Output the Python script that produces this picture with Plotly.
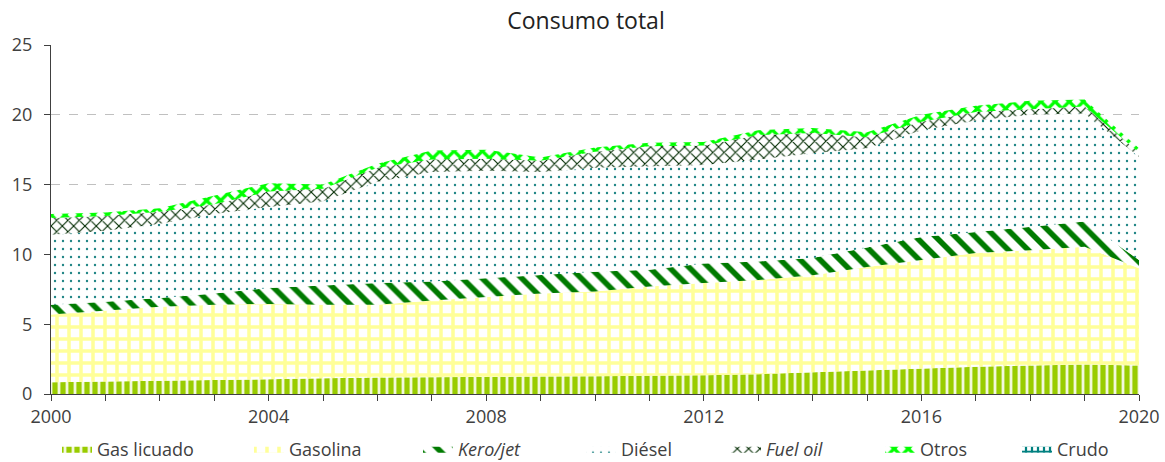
import plotly.graph_objects as go

years = list(range(2000, 2021))

gas_licuado = [0.85, 0.88, 0.95, 1.00, 1.08, 1.12, 1.18, 1.22, 1.24, 1.25, 1.28,
               1.30, 1.35, 1.42, 1.55, 1.68, 1.85, 1.95, 2.05, 2.12, 2.05]
gasolina = [4.85, 5.12, 5.30, 5.40, 5.37, 5.28, 5.22, 5.48, 5.73, 5.95, 6.07,
            6.40, 6.60, 6.75, 6.95, 7.42, 7.75, 8.15, 8.25, 8.43, 6.95]
kero_jet = [0.70, 0.60, 0.62, 0.80, 1.15, 1.40, 1.55, 1.35, 1.33, 1.30, 1.41,
            1.20, 1.40, 1.33, 1.25, 1.40, 1.65, 1.50, 1.70, 1.80, 0.60]
diesel = [5.00, 5.10, 5.33, 5.70, 5.80, 6.00, 7.25, 7.85, 7.70, 7.40, 7.44,
          7.40, 7.05, 7.30, 7.50, 7.10, 7.65, 8.00, 8.00, 7.75, 7.40]
fuel_oil = [1.20, 1.05, 0.85, 0.70, 1.10, 0.90, 1.00, 0.90, 0.85, 0.80, 1.15,
            1.45, 1.40, 1.75, 1.45, 0.80, 0.60, 0.60, 0.40, 0.50, 0.30]
otros = [0.30, 0.25, 0.25, 0.60, 0.60, 0.30, 0.30, 0.65, 0.65, 0.25, 0.30,
         0.25, 0.25, 0.35, 0.35, 0.35, 0.50, 0.45, 0.60, 0.50, 0.30]
crudo = [0.0] * 21

names = ["Gas licuado", "Gasolina", "<i>Kero/jet</i>", "Diésel", "<i>Fuel oil</i>", "Otros", "Crudo"]
values = [gas_licuado, gasolina, kero_jet, diesel, fuel_oil, otros, crudo]
patterns = [
    dict(shape="|", fgcolor="#99cc00", bgcolor="#f2f8dc", size=8, solidity=0.65),
    dict(shape="+", fgcolor="#ffff99", bgcolor="#ffffff", size=12, solidity=0.5),
    dict(shape="\\", fgcolor="#007a00", bgcolor="#ffffff", size=14, solidity=0.4),
    dict(shape=".", fgcolor="#1f8585", bgcolor="#ffffff", size=8, solidity=0.07),
    dict(shape="x", fgcolor="#002a00", bgcolor="#ffffff", size=8, solidity=0.26),
    dict(shape="x", fgcolor="#00ff00", bgcolor="#ffffff", size=10, solidity=0.55),
    dict(shape="+", fgcolor="#008080", bgcolor="#ffffff", size=6, solidity=0.6),
]
legend_text_x = [97, 289, 458, 621, 766, 920, 1057]

fig = go.Figure()
for i, (name, vals, pat) in enumerate(zip(names, values, patterns)):
    p = dict(pat)
    p["fgopacity"] = 1
    fig.add_trace(go.Scatter(
        x=years, y=vals, name=name, mode="lines", stackgroup="one",
        line=dict(width=0, color=pat["fgcolor"]),
        fillcolor=pat["bgcolor"], fillpattern=p,
        hoverinfo="skip",
        legend="legend" if i == 0 else f"legend{i+1}",
    ))

layout_legends = {}
for i, tx in enumerate(legend_text_x):
    key = "legend" if i == 0 else f"legend{i+1}"
    layout_legends[key] = dict(
        orientation="h", xref="container", yref="container",
        x=(tx - 40) / 1165, xanchor="left", y=13 / 462, yanchor="middle",
        itemwidth=30, font=dict(size=18, color="#404040", family="Open Sans"),
        bgcolor="rgba(0,0,0,0)", borderwidth=0,
    )

fig.update_layout(
    width=1165, height=462,
    margin=dict(l=51, r=26, t=45, b=68, autoexpand=False),
    paper_bgcolor="white", plot_bgcolor="white",
    font=dict(family="Open Sans", size=18, color="#404040"),
    title=dict(text="Consumo total", x=0.503, xanchor="center", y=0.972, yanchor="top",
               font=dict(family="Open Sans", size=23, color="#222222")),
    showlegend=True,
    xaxis=dict(range=[2000, 2020], dtick=4, tick0=2000, ticks="outside", ticklen=6,
               tickcolor="#404040", showline=True, linecolor="#404040", linewidth=1,
               showgrid=False, zeroline=False, ticklabelstandoff=0,
               tickfont=dict(size=18, color="#404040"),
               minor=dict(dtick=1, ticks="outside", ticklen=6, tickcolor="#404040", showgrid=False)),
    yaxis=dict(range=[0, 25], dtick=5, ticks="outside", ticklen=6, tickcolor="#404040",
               showline=True, linecolor="#404040", linewidth=1, ticklabelstandoff=8,
               showgrid=True, gridcolor="#c0c0c0", griddash="dash", gridwidth=1,
               zeroline=False, tickfont=dict(size=18, color="#404040")),
    **layout_legends,
)

fig.write_html("out.html", config={"displayModeBar": False},
               post_script="document.body.style.margin='0';")
